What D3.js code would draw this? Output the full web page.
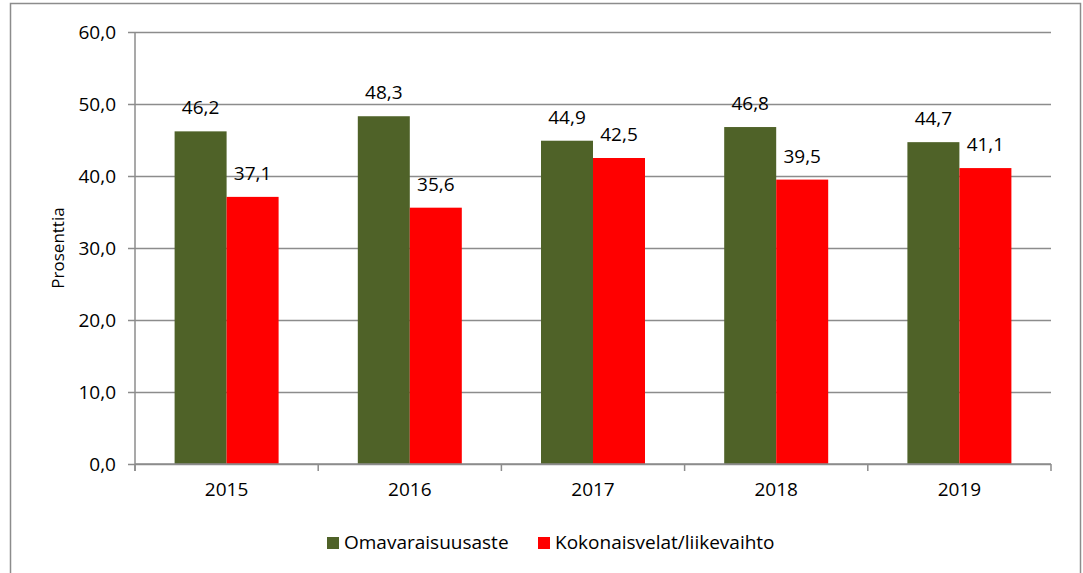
<!DOCTYPE html>
<html>
<head>
<meta charset="utf-8">
<script src="https://cdn.jsdelivr.net/npm/d3@7"></script>
<style>
  body { margin: 0; background: #fff; }
  svg text { font-family: "Open Sans", "Liberation Sans", sans-serif; fill: #000; }
</style>
</head>
<body>
<div id="chart"></div>
<script>
var years = ["2015", "2016", "2017", "2018", "2019"];
var omavaraisuusaste = [46.2, 48.3, 44.9, 46.8, 44.7];
var kokonaisvelat = [37.1, 35.6, 42.5, 39.5, 41.1];
var seriesNames = ["Omavaraisuusaste", "Kokonaisvelat/liikevaihto"];
var seriesColors = ["#4f6228", "#ff0000"];
var yTicks = [0, 10, 20, 30, 40, 50, 60];

var width = 1083, height = 573;
var margin = { left: 135, right: 32, top: 32, bottom: 109 };
var fmt = function(v) { return v.toFixed(1).replace(".", ","); };

var svg = d3.select("#chart")
    .append("svg")
    .attr("width", width)
    .attr("height", height);

// outer chart border (bottom edge runs off the image)
svg.append("rect")
    .attr("x", 10.5)
    .attr("y", 3.5)
    .attr("width", 1070)
    .attr("height", 600)
    .attr("fill", "none")
    .attr("stroke", "#8c8c8c")
    .attr("stroke-width", 1.5);

var x = d3.scaleBand()
    .domain(years)
    .range([margin.left, width - margin.right]);

var y = d3.scaleLinear()
    .domain([0, 60])
    .range([height - margin.bottom, margin.top]);

var barWidth = 52;

// gridlines + y ticks
var yAxis = svg.append("g")
    .attr("class", "y axis")
    .attr("transform", "translate(" + margin.left + ",0)")
    .call(d3.axisLeft(y)
        .tickValues(yTicks)
        .tickSize(-(width - margin.left - margin.right))
        .tickPadding(19)
        .tickFormat(fmt));

yAxis.select(".domain").remove();
yAxis.selectAll(".tick line")
    .attr("x1", -7)
    .attr("stroke", "#8c8c8c")
    .attr("stroke-width", 1.5);
yAxis.selectAll(".tick text")
    .style("font-size", "19px")
    .attr("dy", "0.35em");

svg.append("line")
    .attr("x1", margin.left).attr("x2", margin.left)
    .attr("y1", y(60)).attr("y2", y(0) + 7)
    .attr("stroke", "#8c8c8c")
    .attr("stroke-width", 1.5);

// bars
var groups = svg.selectAll("g.year")
    .data(years).enter()
    .append("g")
    .attr("class", "year");

var series = [omavaraisuusaste, kokonaisvelat];

series.forEach(function(values, s) {
    groups.append("rect")
        .attr("x", function(d) {
            return x(d) + x.bandwidth() / 2 - barWidth + s * barWidth;
        })
        .attr("y", function(d, i) { return y(values[i]); })
        .attr("width", barWidth)
        .attr("height", function(d, i) { return y(0) - y(values[i]); })
        .attr("fill", seriesColors[s]);

    groups.append("text")
        .attr("x", function(d) {
            return x(d) + x.bandwidth() / 2 - barWidth / 2 + s * barWidth;
        })
        .attr("y", function(d, i) { return y(values[i]) - 17; })
        .attr("text-anchor", "middle")
        .style("font-size", "19px")
        .text(function(d, i) { return fmt(values[i]); });
});

// x axis
var xAxis = svg.append("g")
    .attr("class", "x axis")
    .attr("transform", "translate(0," + y(0) + ")")
    .call(d3.axisBottom(x).tickSize(0).tickPadding(19));

xAxis.select(".domain")
    .attr("stroke", "#8c8c8c")
    .attr("stroke-width", 1.5)
    .attr("d", "M" + margin.left + ",0H" + (width - margin.right));
xAxis.selectAll(".tick text")
    .style("font-size", "19px")
    .attr("dy", "0.71em");

var bounds = years.map(function(d) { return x(d); }).concat([width - margin.right]);
xAxis.selectAll("line.bound")
    .data(bounds).enter()
    .append("line")
    .attr("class", "bound")
    .attr("x1", function(d) { return d; })
    .attr("x2", function(d) { return d; })
    .attr("y1", 0)
    .attr("y2", 7)
    .attr("stroke", "#8c8c8c")
    .attr("stroke-width", 1.5);

// y axis title
svg.append("text")
    .attr("transform", "translate(64," + (y(30)) + ") rotate(-90)")
    .attr("text-anchor", "middle")
    .style("font-size", "17px")
    .text("Prosenttia");

// legend
var legendX = [327, 538];
var legend = svg.selectAll("g.legend")
    .data(seriesNames).enter()
    .append("g")
    .attr("class", "legend")
    .attr("transform", function(d, i) { return "translate(" + legendX[i] + ",537)"; });

legend.append("rect")
    .attr("width", 12)
    .attr("height", 12)
    .attr("fill", function(d, i) { return seriesColors[i]; });

legend.append("text")
    .attr("x", 17)
    .attr("y", 12)
    .style("font-size", "19px")
    .text(function(d) { return d; });
</script>
</body>
</html>
